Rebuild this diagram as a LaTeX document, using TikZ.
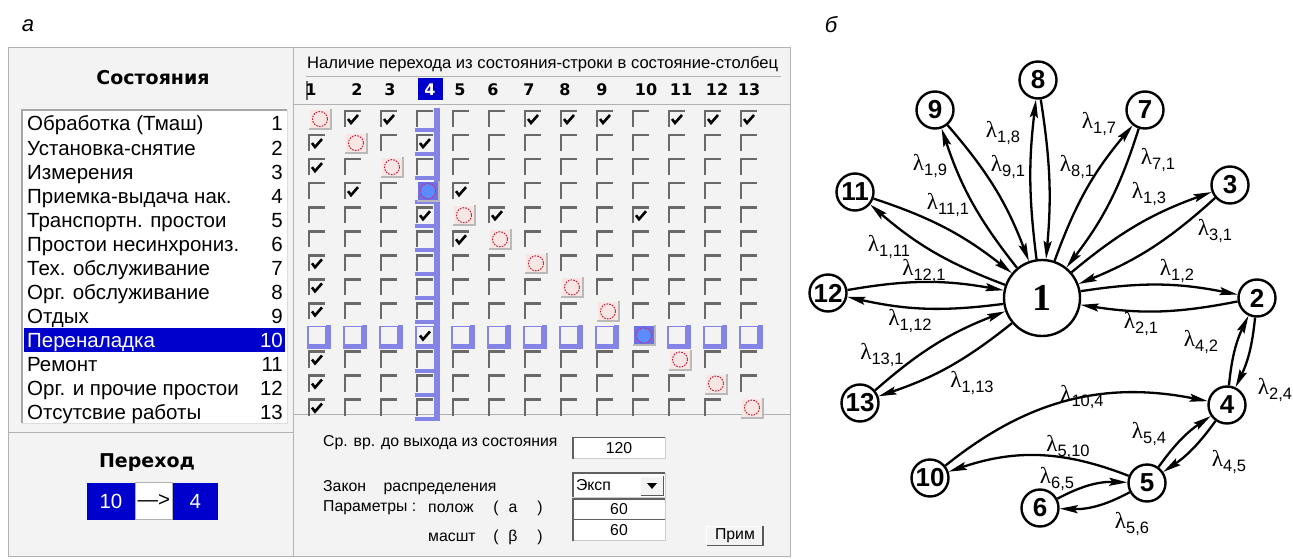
\documentclass[tikz,border=0pt]{standalone}
\usepackage{fontspec}
\setmainfont{Liberation Sans}
\newfontfamily\serf{Liberation Serif}
\newfontfamily\djv{DejaVu Sans}
\usetikzlibrary{arrows.meta}
\definecolor{panel}{RGB}{243,243,243}
\definecolor{winblue}{RGB}{0,0,204}
\definecolor{lav}{RGB}{132,132,230}
\definecolor{pinkc}{RGB}{248,230,226}
\definecolor{circred}{RGB}{180,30,70}
\definecolor{selcell}{RGB}{110,110,232}
\definecolor{selin}{RGB}{90,140,255}
\definecolor{boxgray}{RGB}{105,105,105}
\newcommand\lm[1]{{\serf\fontsize{23}{23}\selectfont λ}\raisebox{-4.5pt}{\fontsize{16.5}{16.5}\selectfont #1}}
\tikzset{state/.style={circle,draw,line width=2.4pt,minimum size=37pt,inner sep=0pt,fill=white,
           font=\fontsize{26}{26}\selectfont\bfseries},
         trans/.style={-{Stealth[length=18pt,width=8pt,inset=3pt]},line width=2.3pt,bend left=10},
         lam/.style={inner sep=0pt},
         win/.style={font=\fontsize{20.5}{20.5}\selectfont,inner sep=0pt},
         smalltxt/.style={font=\fontsize{15.8}{15.8}\selectfont,inner sep=0pt},
         colnum/.style={font=\djv\bfseries\fontsize{16}{16}\selectfont,inner sep=0pt},
         field/.style={draw=gray!40,fill=white,minimum width=92pt,inner sep=0pt,smalltxt},
         sunk/.style={draw=gray!75!black,line width=1.6pt},
         cbline/.style={draw=boxgray,line width=2.6pt},
         circ/.style={draw=circred,line width=1pt,dash pattern=on 1.6pt off 1.2pt},
         cb/.pic={\draw[cbline] (-8,8) -- (-8,-8) -- (8,-8);},
         tick/.pic={\draw[line width=2.6pt] (-5,0) -- (-2,4) -- (5,-4);},
         diag/.pic={\fill[pinkc] (-7,-9) rectangle (13,9);
           \draw[gray!55,line width=2pt] (-8,10) -- (14,10) -- (14,-10);
           \draw[circ] (3,0) circle (7.5);},
         diagsel/.pic={\fill[selcell] (-7,-9) rectangle (13,9);
           \draw[gray!55,line width=2pt] (-8,10) -- (14,10) -- (14,-10);
           \fill[selin] (3,0) circle (7.5);
           \draw[circ,draw=magenta!70!black] (3,0) circle (7.5);},
         hl/.pic={\draw[lav,line width=1.2pt] (-9,-9) rectangle (9,9);
           \fill[lav] (9,-10) rectangle (14,14);
           \fill[lav] (-10,9) rectangle (14,14);}}

\begin{document}
\begin{tikzpicture}[x=1pt,y=-1pt]
  \useasboundingbox (0,0) rectangle (1293,559);
  \node[font=\fontsize{22}{22}\selectfont\itshape] (pa) at (28,26) {а};
  \node[font=\fontsize{22}{22}\selectfont\itshape] (pb) at (831,25) {б};
  \fill[panel] (8,48) rectangle (790,556);
  \draw[gray!60,line width=1pt] (8,48) rectangle (790,556) (293,48) -- (293,556)
    (8,432) -- (293,432) (293,414) -- (790,414) (293,105) -- (790,105);
  \node[font=\djv\bfseries\fontsize{19}{19}\selectfont] (states) at (153,78) {Состояния};
  \fill[white] (22,110) rectangle (287,423);
  \draw[gray!70,line width=2.4pt] (22,423) -- (22,110) -- (287,110);
  \draw[gray!25,line width=1pt] (287,110) -- (287,423) -- (22,423);
  \fill[winblue] (24,328) rectangle (285,352);
  \foreach \n/\t in {1/{Обработка (Тмаш)},2/{Установка-снятие},3/{Измерения},
      4/{Приемка-выдача нак.},5/{Транспортн. простои},6/{Простои несинхрониз.},
      7/{Тех. обслуживание},8/{Орг. обслуживание},9/{Отдых},10/{Переналадка},
      11/{Ремонт},12/{Орг. и прочие простои},13/{Отсутсвие работы}}{
    \ifnum\n=10 \def\tc{white}\else\def\tc{black}\fi
    \node[win,text=\tc,anchor=base west] (s\n) at (27,{131+24.08*(\n-1)}) {\t};
    \node[win,text=\tc,anchor=base east] (k\n) at (283,{131+24.08*(\n-1)}) {\n};
  }
  \node[font=\fontsize{16.6}{16.6}\selectfont,inner sep=0pt,anchor=west] (title) at (307,64)
    {Наличие перехода из состояния-строки в состояние-столбец};
  \draw[gray!60,line width=1pt] (306,77) -- (781,77);
  \draw[boxgray,line width=2.5pt] (307,81) -- (307,100);
  \node[fill=winblue,minimum width=25pt,minimum height=22pt,inner sep=0pt] (h4box) at (430,89) {};
  \foreach \c/\hx in {1/311,2/357,3/390,4/430,5/460,6/493,7/529,8/565,9/602,10/646,11/681,12/717,13/749}{
    \ifnum\c=4 \def\tc{white}\else\def\tc{black}\fi
    \node[colnum,text=\tc] (h\c) at (\hx,90) {\c};
  }
  \fill[lav] (434,108) rectangle (440,417);
  \foreach \r in {1,...,13}
    \fill[lav] (415,{119+24.05*(\r-1)+9}) rectangle (440,{119+24.05*(\r-1)+13});
  \foreach \r in {1,...,13}{
    \foreach \c in {1,...,13}{
      \pgfmathsetmacro\cx{317+36*(\c-1)}
      \pgfmathsetmacro\cy{119+24.05*(\r-1)}
      \ifnum\r=\c
        \ifnum\r=4 \pic at (\cx,\cy) {diagsel};
        \else\ifnum\r=10 \pic at (\cx,\cy) {diagsel};
        \else \pic at (\cx,\cy) {diag};\fi\fi
      \else
        \ifnum\r=10 \pic at (\cx,\cy) {hl};
        \else \pic at (\cx,\cy) {cb};\fi
      \fi
    }
  }
  \foreach \r/\c in {1/2,1/3,1/7,1/8,1/9,1/11,1/12,1/13,2/1,2/4,3/1,4/2,4/5,5/4,5/6,5/10,
      6/5,7/1,8/1,9/1,10/4,11/1,12/1,13/1}
    \pic at ({317+36*(\c-1)},{119+24.05*(\r-1)}) {tick};
  % bottom of the left part
  \node[font=\djv\bfseries\fontsize{19}{19}\selectfont] (trhead) at (147,463) {Переход};
  \node[fill=winblue,text=white,win,minimum width=48pt,minimum height=37pt] (from) at (111,501) {10};
  \node[draw=gray!60,fill=white,win,minimum width=37pt,minimum height=37pt,anchor=west] (arr) at (from.east) {—>};
  \node[fill=winblue,text=white,win,minimum width=45pt,minimum height=37pt,anchor=west] (to) at (arr.east) {4};
  % bottom of the right part
  \node[smalltxt,anchor=west] (tavg) at (323,443) {Ср. вр. до выхода из состояния};
  \node[smalltxt,anchor=west] (tlaw) at (323,488) {Закон\ \ \ \ распределения};
  \node[smalltxt,anchor=west] (tpar) at (323,508) {Параметры :};
  \node[smalltxt,anchor=west] (tpos) at (428,508) {полож};
  \node[smalltxt,anchor=west] (tscl) at (428,537) {масшт};
  \foreach \yy/\g in {508/а,537/β}{
    \node[smalltxt] at (496,\yy) {(};
    \node[smalltxt] at (513,\yy) {\g};
    \node[smalltxt] at (540,\yy) {)};
  }
  \node[field,minimum height=21pt] (avg) at (619,448) {120};
  \node[field,minimum height=24pt] (law) at (619,485) {};
  \node[field,minimum height=20pt] (pos) at (619,509) {60};
  \node[field,minimum height=21pt] (scl) at (619,530) {60};
  \foreach \f in {avg,law,pos,scl}
    \draw[sunk] (\f.south west) -- (\f.north west) -- (\f.north east);
  \node[smalltxt,anchor=west] (lawt) at ([xshift=3pt]law.west) {Эксп};
  \node[fill=panel,minimum width=22pt,minimum height=19pt,inner sep=0pt] (drop) at (652,486) {};
  \draw[white,line width=1.2pt] (drop.south west) -- (drop.north west) -- (drop.north east);
  \draw[gray!70!black,line width=1.2pt] (drop.south west) -- (drop.south east) -- (drop.north east);
  \fill (647,483) -- (657,483) -- (652,489) -- cycle;
  \node[fill=panel,smalltxt,minimum width=56pt,minimum height=19pt] (apply) at (735,536) {Прим};
  \draw[white,line width=1.2pt] (apply.south west) -- (apply.north west) -- (apply.north east);
  \draw[gray!70!black,line width=1.5pt] (apply.south west) -- (apply.south east) -- (apply.north east);
  % graph б
  \node[state,minimum size=76pt,font=\serf\bfseries\fontsize{38}{38}\selectfont] (n1) at (1042,298) {1};
  \foreach \i/\x/\y in {2/1257/298,3/1230/185,4/1227/405,5/1147/483,6/1040/508,7/1145/110,
      8/1038/80,9/935/110,10/930/478,11/855/192,12/828/293,13/860/403}
    \node[state] (n\i) at (\x,\y) {\i};
  \foreach \a/\b in {1/2,2/1,1/3,3/1,1/7,7/1,1/9,9/1,1/11,11/1,1/12,12/1,1/13,13/1,
      2/4,4/2,4/5,5/4}
    \draw[trans] (n\a) to (n\b);
  \draw[trans,bend left=7] (n1) to (n8);
  \draw[trans,bend left=7] (n8) to (n1);
  \draw[trans,bend left=15] (n5) to (n6);
  \draw[trans,bend left=15] (n6) to (n5);
  \draw[trans,bend left=25] (n10) to (n4);
  \draw[trans,bend left=0,bend right=20] (n5) to (n10);
  \foreach \i/\j/\x/\y in {1/8/1003/133,9/1/1008/167,8/1/1077/167,1/7/1099/124,7/1/1158/160,
      1/9/930/166,11/1/948/205,1/3/1149/194,3/1/1215/231,1/11/889/247,12/1/924/271,
      1/2/1177/271,1/12/910/321,2/1/1141/324,13/1/882/355,1/13/972/383,4/2/1201/342,
      2/4/1275/390,10/4/1082/397,5/4/1149/434,4/5/1229/462,5/10/1068/447,6/5/1057/479,
      5/6/1132/524}
    \node[lam] (l\i-\j) at (\x,\y) {\lm{\i,\j}};
\end{tikzpicture}
\end{document}
